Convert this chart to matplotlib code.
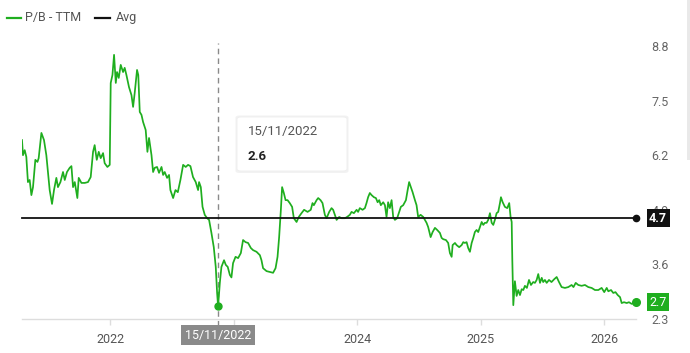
import matplotlib
matplotlib.use("Agg")
import matplotlib.pyplot as plt
from matplotlib.patches import FancyBboxPatch, Rectangle

plt.rcParams['font.family'] = ['Roboto', 'DejaVu Sans']

# ---- data (decimal years, P/B values) ----
years = [
    2021.286, 2021.294, 2021.308, 2021.321, 2021.334, 2021.348, 2021.362, 2021.375, 2021.394, 2021.411,
    2021.421, 2021.443, 2021.464, 2021.483, 2021.510, 2021.529, 2021.545, 2021.564, 2021.577, 2021.597,
    2021.618, 2021.632, 2021.650, 2021.672, 2021.686, 2021.699, 2021.713, 2021.734, 2021.745, 2021.767,
    2021.794, 2021.820, 2021.842, 2021.861, 2021.874, 2021.891, 2021.907, 2021.923, 2021.942, 2021.955,
    2021.977, 2021.996, 2022.004, 2022.018, 2022.031, 2022.045, 2022.055, 2022.069, 2022.085, 2022.104,
    2022.117, 2022.131, 2022.152, 2022.172, 2022.185, 2022.198, 2022.217, 2022.227, 2022.239, 2022.253,
    2022.266, 2022.287, 2022.301, 2022.314, 2022.334, 2022.347, 2022.360, 2022.379, 2022.395, 2022.415,
    2022.428, 2022.441, 2022.460, 2022.476, 2022.487, 2022.509, 2022.528, 2022.547, 2022.568, 2022.590,
    2022.611, 2022.630, 2022.649, 2022.670, 2022.692, 2022.711, 2022.719, 2022.733, 2022.747, 2022.765,
    2022.784, 2022.800, 2022.819, 2022.838, 2022.854, 2022.865, 2022.873, 2022.887, 2022.900, 2022.921,
    2022.935, 2022.951, 2022.968, 2022.981, 2022.994, 2023.014, 2023.035, 2023.057, 2023.075, 2023.095,
    2023.116, 2023.138, 2023.156, 2023.184, 2023.211, 2023.224, 2023.237, 2023.265, 2023.291, 2023.318,
    2023.338, 2023.354, 2023.367, 2023.381, 2023.391, 2023.405, 2023.419, 2023.435, 2023.453, 2023.472,
    2023.486, 2023.508, 2023.526, 2023.548, 2023.569, 2023.597, 2023.623, 2023.637, 2023.648, 2023.670,
    2023.683, 2023.702, 2023.718, 2023.737, 2023.751, 2023.772, 2023.791, 2023.804, 2023.818, 2023.832,
    2023.853, 2023.872, 2023.899, 2023.917, 2023.939, 2023.953, 2023.972, 2023.994, 2024.006, 2024.020,
    2024.042, 2024.061, 2024.074, 2024.087, 2024.101, 2024.115, 2024.134, 2024.150, 2024.164, 2024.177,
    2024.190, 2024.209, 2024.223, 2024.236, 2024.249, 2024.263, 2024.277, 2024.290, 2024.304, 2024.322,
    2024.339, 2024.352, 2024.371, 2024.393, 2024.407, 2024.419, 2024.433, 2024.447, 2024.466, 2024.479,
    2024.492, 2024.512, 2024.533, 2024.547, 2024.560, 2024.573, 2024.593, 2024.609, 2024.628, 2024.646,
    2024.668, 2024.682, 2024.695, 2024.717, 2024.735, 2024.749, 2024.763, 2024.771, 2024.790, 2024.803,
    2024.824, 2024.844, 2024.857, 2024.870, 2024.884, 2024.897, 2024.911, 2024.925, 2024.938, 2024.951,
    2024.965, 2024.978, 2024.992, 2025.006, 2025.019, 2025.032, 2025.046, 2025.059, 2025.073, 2025.087,
    2025.100, 2025.113, 2025.127, 2025.140, 2025.154, 2025.162, 2025.176, 2025.194, 2025.213, 2025.229,
    2025.240, 2025.249, 2025.254, 2025.262, 2025.275, 2025.289, 2025.302, 2025.316, 2025.330, 2025.343,
    2025.356, 2025.372, 2025.389, 2025.405, 2025.423, 2025.437, 2025.451, 2025.464, 2025.478, 2025.492,
    2025.504, 2025.518, 2025.532, 2025.551, 2025.571, 2025.594, 2025.613, 2025.632, 2025.653, 2025.680,
    2025.707, 2025.734, 2025.749, 2025.767, 2025.788, 2025.815, 2025.842, 2025.869, 2025.896, 2025.923,
    2025.950, 2025.977, 2025.998, 2026.018, 2026.031, 2026.053, 2026.071, 2026.089, 2026.107, 2026.126,
    2026.139, 2026.158, 2026.180, 2026.198, 2026.220, 2026.239, 2026.255,
]
pb_ttm = [
    6.56, 6.20, 6.32, 6.16, 5.56, 5.61, 5.25, 5.44, 6.09, 6.04,
    6.13, 6.73, 6.56, 6.20, 5.37, 5.04, 5.37, 5.66, 5.44, 5.56,
    5.80, 5.61, 5.80, 5.90, 5.94, 5.44, 5.56, 5.18, 5.66, 5.54,
    5.54, 5.56, 5.68, 6.28, 6.44, 6.09, 6.28, 6.13, 6.25, 6.01,
    5.92, 5.97, 7.92, 8.11, 8.59, 7.92, 8.18, 8.04, 8.35, 8.18,
    8.28, 8.11, 7.82, 7.63, 7.35, 7.68, 8.23, 8.11, 7.23, 7.16,
    6.99, 6.80, 6.28, 6.61, 6.20, 5.80, 5.90, 5.92, 5.78, 5.92,
    5.73, 5.80, 5.66, 5.73, 5.37, 5.18, 5.37, 5.32, 5.61, 5.97,
    5.92, 5.97, 5.94, 5.68, 5.56, 5.37, 5.56, 5.44, 4.97, 4.78,
    4.70, 4.66, 4.35, 4.01, 3.54, 2.92, 2.60, 3.16, 3.54, 3.70,
    3.59, 3.54, 3.35, 3.29, 3.63, 3.78, 3.75, 3.87, 4.18, 4.13,
    4.11, 3.99, 3.94, 3.90, 3.82, 3.70, 3.51, 3.44, 3.42, 3.40,
    3.51, 3.78, 4.25, 4.90, 5.44, 5.30, 5.13, 5.13, 5.06, 4.97,
    4.70, 4.61, 4.73, 4.82, 4.90, 4.85, 4.90, 5.06, 5.01, 5.13,
    5.18, 5.13, 5.06, 4.78, 4.70, 4.85, 4.94, 4.90, 4.78, 4.66,
    4.73, 4.70, 4.70, 4.73, 4.78, 4.85, 4.82, 4.90, 4.85, 4.94,
    4.90, 4.94, 5.06, 5.20, 5.30, 5.25, 5.20, 5.18, 5.08, 5.13,
    5.01, 5.08, 5.01, 4.73, 5.08, 4.94, 5.13, 4.73, 4.66, 4.70,
    4.85, 4.97, 5.01, 5.13, 5.37, 5.56, 5.44, 5.32, 5.13, 5.01,
    4.73, 4.78, 4.73, 4.66, 4.59, 4.49, 4.25, 4.37, 4.47, 4.42,
    4.35, 4.23, 4.20, 4.18, 4.11, 3.87, 3.78, 4.06, 4.11, 4.06,
    4.01, 4.06, 4.13, 4.11, 4.13, 3.99, 3.90, 4.11, 4.23, 4.37,
    4.42, 4.37, 4.49, 4.61, 4.54, 4.59, 4.59, 4.66, 4.82, 4.59,
    4.54, 4.66, 4.82, 4.85, 5.06, 5.20, 5.08, 4.97, 4.94, 5.06,
    4.73, 4.61, 3.70, 2.63, 3.20, 2.85, 2.99, 2.87, 3.01, 2.99,
    3.09, 3.04, 3.23, 3.11, 3.18, 3.16, 3.23, 3.37, 3.16, 3.28,
    3.18, 3.23, 3.16, 3.23, 3.18, 3.25, 3.30, 3.18, 3.06, 3.04,
    3.06, 3.11, 3.06, 3.16, 3.11, 3.09, 3.11, 3.06, 3.04, 2.99,
    2.99, 3.04, 2.94, 3.04, 2.96, 2.99, 2.92, 2.94, 2.87, 2.82,
    2.68, 2.70, 2.68, 2.70, 2.66, 2.68, 2.70,
]
avg_value = 4.7
cursor_year = 2022.873
cursor_label = "15/11/2022"
cursor_value = 2.6
y_ticks = [2.3, 3.6, 4.9, 6.2, 7.5, 8.8]
x_ticks = [2022, 2023, 2024, 2025, 2026]
x_tick_labels = ["2022", "", "2024", "2025", "2026"]
series_name = "P/B - TTM"
avg_name = "Avg"

GREEN = "#1fae1f"
W, H = 690, 353

def fx(x):
    return x / W

def fy(y):
    return 1 - y / H

fig = plt.figure(figsize=(W / 100, H / 100), dpi=100)
fig.patch.set_facecolor("white")

ax_left, ax_right = 22, 636
ax = fig.add_axes([fx(ax_left), fy(319), fx(ax_right) - fx(ax_left), fy(39.7) - fy(319)])
ax.set_xlim(years[0], years[-1])
ax.set_ylim(2.3, 8.95)

for s in ["top", "left", "right"]:
    ax.spines[s].set_visible(False)
ax.spines["bottom"].set_color("#dddddd")
ax.spines["bottom"].set_linewidth(1.0)

ax.yaxis.tick_right()
ax.set_yticks(y_ticks)
ax.set_yticklabels([f"{v:.1f}" for v in y_ticks])
ax.tick_params(axis="y", length=0, pad=11, labelsize=9, labelcolor="#666666")
ax.set_xticks(x_ticks)
ax.set_xticklabels(x_tick_labels)
ax.tick_params(axis="x", length=4, width=1, color="#dddddd", pad=6,
               labelsize=9, labelcolor="#555555")

# series
ax.plot(years, pb_ttm, color=GREEN, lw=1.25, zorder=3, solid_joinstyle="round")
ax.plot([years[-1]], [pb_ttm[-1]], "o", color=GREEN, ms=5.5, clip_on=False, zorder=4)

# average line
ax.plot([years[0], years[-1]], [avg_value, avg_value], color="#111111", lw=1.3, zorder=3, clip_on=False)
ax.plot([years[-1]], [avg_value], "o", color="#111111", ms=4.5, clip_on=False, zorder=4)

# cursor
ax.axvline(cursor_year, ymin=-0.025, ymax=0.988, color="#8a8a8a", lw=1.0,
           ls=(0, (4, 3)), clip_on=False, zorder=2)
ax.plot([cursor_year], [cursor_value], "o", color=GREEN, ms=5, clip_on=False, zorder=5)

# value boxes on the right
box_x = 1.0 + 13 / (ax_right - ax_left)
ax.text(box_x, avg_value, f"{avg_value:.1f}", transform=ax.get_yaxis_transform(),
        ha="left", va="center", color="white", fontsize=9, fontweight="bold",
        bbox=dict(boxstyle="square,pad=0.2", fc="#111111", ec="none"),
        zorder=6, clip_on=False)
ax.text(box_x, pb_ttm[-1], f"{pb_ttm[-1]:.1f}",
        transform=ax.get_yaxis_transform(),
        ha="left", va="center", color="white", fontsize=9,
        bbox=dict(boxstyle="square,pad=0.2", fc=GREEN, ec="none"),
        zorder=6, clip_on=False)

# cursor date label on x axis
ax.text(cursor_year, -0.058, cursor_label, transform=ax.get_xaxis_transform(),
        ha="center", va="center", color="white", fontsize=9,
        bbox=dict(boxstyle="square,pad=0.28", fc="#8a8a8a", ec="none"),
        zorder=6, clip_on=False)

# tooltip
shadow = FancyBboxPatch((fx(235.5), fy(173)), fx(113), fy(0) - fy(57.5),
                        boxstyle="round,pad=0,rounding_size=0.006",
                        transform=fig.transFigure, fc="#f2f2f2", ec="none", zorder=1)
fig.patches.append(shadow)
tip = FancyBboxPatch((fx(237), fy(171)), fx(110), fy(0) - fy(54),
                     boxstyle="round,pad=0,rounding_size=0.006",
                     transform=fig.transFigure, fc="white", ec="#eeeeee", lw=0.6, zorder=2)
fig.patches.append(tip)
fig.text(fx(248), fy(132), cursor_label, color="#555555", fontsize=9.5, va="center", ha="left", zorder=3)
fig.text(fx(248), fy(156), f"{cursor_value:.1f}", color="#222222", fontsize=9.5,
         fontweight="bold", va="center", ha="left", zorder=3)

# legend
fig.add_artist(plt.Line2D([fx(7), fx(21)], [fy(17.5), fy(17.5)], color=GREEN, lw=1.6))
fig.text(fx(25), fy(17.5), series_name, color="#555555", fontsize=9, va="center", ha="left")
fig.add_artist(plt.Line2D([fx(95), fx(110)], [fy(17.5), fy(17.5)], color="#111111", lw=1.6))
fig.text(fx(116), fy(17.5), avg_name, color="#555555", fontsize=9, va="center", ha="left")

# right scroll strip
fig.patches.append(Rectangle((fx(686.5), fy(160)), fx(3.5), fy(0) - fy(160),
                             transform=fig.transFigure, fc="#e9e9e9", ec="none"))

fig.savefig("out.png", dpi=100, facecolor="white")
